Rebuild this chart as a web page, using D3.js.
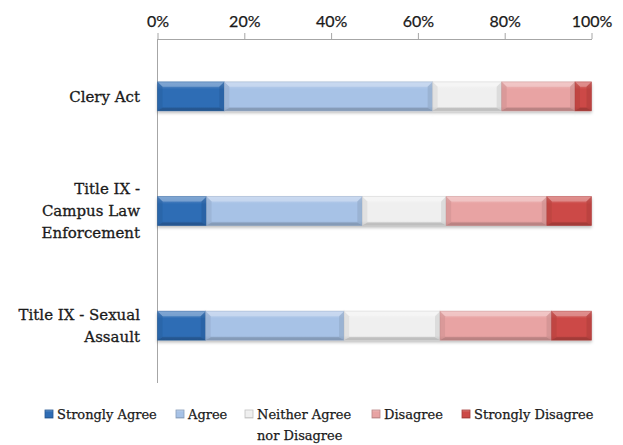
<!DOCTYPE html>
<html><head><meta charset="utf-8">
<script src="https://cdn.jsdelivr.net/npm/d3@7/dist/d3.min.js"></script>
<style>body{margin:0;background:#fff}svg{display:block}</style>
</head><body><svg id="c" width="623" height="445"></svg>
<script>
const categories = [["Clery Act"], ["Title IX -", "Campus Law", "Enforcement"], ["Title IX - Sexual", "Assault"]];
const categoryKeys = ["Clery Act", "Title IX - Campus Law Enforcement", "Title IX - Sexual Assault"];
const seriesNames = ["Strongly Agree", "Agree", "Neither Agree nor Disagree", "Disagree", "Strongly Disagree"];
const legendLines = [["Strongly Agree"], ["Agree"], ["Neither Agree", "nor Disagree"], ["Disagree"], ["Strongly Disagree"]];
const stronglyAgree = [15.4, 11.3, 11.1];
const agree = [48.0, 35.9, 31.9];
const neither = [15.9, 19.3, 22.1];
const disagree = [16.9, 23.2, 25.7];
const stronglyDisagree = [3.8, 10.3, 9.2];
const tickValues = [0, 20, 40, 60, 80, 100];
const colors = ["#2f6db5", "#a7c2e6", "#efefef", "#e8a3a3", "#cc4a47"];

const svg = d3.select("#c");
const x = d3.scaleLinear().domain([0, 100]).range([157.5, 591.5]);
const y = d3.scaleBand().domain(categoryKeys).range([39, 383]).paddingInner(0.747).paddingOuter(0.374);

// axis
const ax = d3.axisTop(x).tickValues(tickValues).tickFormat(d => d + "%").tickSize(6).tickSizeOuter(0);
const g = svg.append("g").attr("transform", "translate(0,39)").call(ax);
g.select(".domain").attr("stroke", "#a6a6a6");
g.selectAll(".tick line").attr("stroke", "#a6a6a6");
g.selectAll(".tick text").attr("font-family", "Lato, 'Open Sans', sans-serif").attr("font-size", 16)
  .attr("fill", "#1a1a1a").attr("stroke", "#1a1a1a").attr("stroke-width", 0.25).attr("dy", "-0.2em");
svg.append("line").attr("x1", x(0)).attr("x2", x(0)).attr("y1", 39).attr("y2", 383).attr("stroke", "#a6a6a6");

const series = [stronglyAgree, agree, neither, disagree, stronglyDisagree];
const defs = svg.append("defs");
colors.forEach((c, i) => {
  const gr = defs.append("linearGradient").attr("id", "g" + i).attr("x1", 0).attr("y1", 0).attr("x2", 0).attr("y2", 1);
  const base = d3.color(c);
  gr.append("stop").attr("offset", "0%").attr("stop-color", d3.interpolateRgb(c, "#fff")(0.35));
  gr.append("stop").attr("offset", "25%").attr("stop-color", c);
  gr.append("stop").attr("offset", "85%").attr("stop-color", c);
  gr.append("stop").attr("offset", "100%").attr("stop-color", base.darker(0.6));
});
const filt = defs.append("filter").attr("id", "sh").attr("x", "-5%").attr("y", "-20%").attr("width", "110%").attr("height", "160%");
filt.append("feDropShadow").attr("dx", 0).attr("dy", 2).attr("stdDeviation", 1.5).attr("flood-color", "#000").attr("flood-opacity", 0.25);

categoryKeys.forEach((cat, ci) => {
  let acc = 0;
  const bh = y.bandwidth(), y0 = y(cat);
  const bg = svg.append("g").attr("filter", "url(#sh)");
  series.forEach((s, si) => {
    const v = s[ci];
    const x0 = x(acc), x1 = x(acc + v);
    acc += v;
    const c = colors[si];
    bg.append("rect").attr("x", x0).attr("y", y0).attr("width", x1 - x0).attr("height", bh).attr("fill", `url(#g${si})`);
    const b = Math.min(5, (x1 - x0) / 2);
    bg.append("polygon").attr("points", [[x0, y0], [x1, y0], [x1 - b, y0 + b], [x0 + b, y0 + b]].join(" "))
      .attr("fill", d3.interpolateRgb(c, "#fff")(0.4)).attr("opacity", 0.8);
    bg.append("polygon").attr("points", [[x0, y0 + bh], [x1, y0 + bh], [x1 - b, y0 + bh - b * 0.6], [x0 + b, y0 + bh - b * 0.6]].join(" "))
      .attr("fill", d3.color(c).darker(0.7)).attr("opacity", 0.8);
    bg.append("polygon").attr("points", [[x0, y0], [x0 + b, y0 + b], [x0 + b, y0 + bh - b * 0.6], [x0, y0 + bh]].join(" "))
      .attr("fill", d3.color(c).darker(0.3)).attr("opacity", 0.6);
    bg.append("polygon").attr("points", [[x1, y0], [x1 - b, y0 + b], [x1 - b, y0 + bh - b * 0.6], [x1, y0 + bh]].join(" "))
      .attr("fill", d3.color(c).darker(0.4)).attr("opacity", 0.6);
    bg.append("rect").attr("x", x0).attr("y", y0).attr("width", x1 - x0).attr("height", bh).attr("fill", "none")
      .attr("stroke", d3.color(c).darker(0.5)).attr("stroke-opacity", 0.5).attr("stroke-width", 0.8);
  });
  const lines = categories[ci];
  const lh = 22;
  const cy = y0 + bh / 2;
  const t = svg.append("text").attr("font-family", "'DejaVu Serif', serif").attr("font-size", 15)
    .attr("fill", "#1a1a1a").attr("stroke", "#1a1a1a").attr("stroke-width", 0.3).attr("text-anchor", "end");
  lines.forEach((l, li) => {
    t.append("tspan").attr("x", 140).attr("y", cy + (li - (lines.length - 1) / 2) * lh).attr("dy", "0.35em").text(l);
  });
});

// legend
const legX = [45, 176, 245, 372, 462];
const lg = svg.append("g");
seriesNames.forEach((n, i) => {
  lg.append("rect").attr("x", legX[i]).attr("y", 410).attr("width", 8).attr("height", 8)
    .attr("fill", `url(#g${i})`).attr("stroke", d3.color(colors[i]).darker(0.6)).attr("stroke-width", 0.8);
  const t = lg.append("text").attr("font-family", "'DejaVu Serif', serif").attr("font-size", 13).attr("fill", "#1a1a1a")
    .attr("stroke", "#1a1a1a").attr("stroke-width", 0.25);
  legendLines[i].forEach((l, li) => {
    t.append("tspan").attr("x", legX[i] + 12).attr("y", 414 + li * 21).attr("dy", "0.35em").text(l);
  });
});
</script></body></html>
